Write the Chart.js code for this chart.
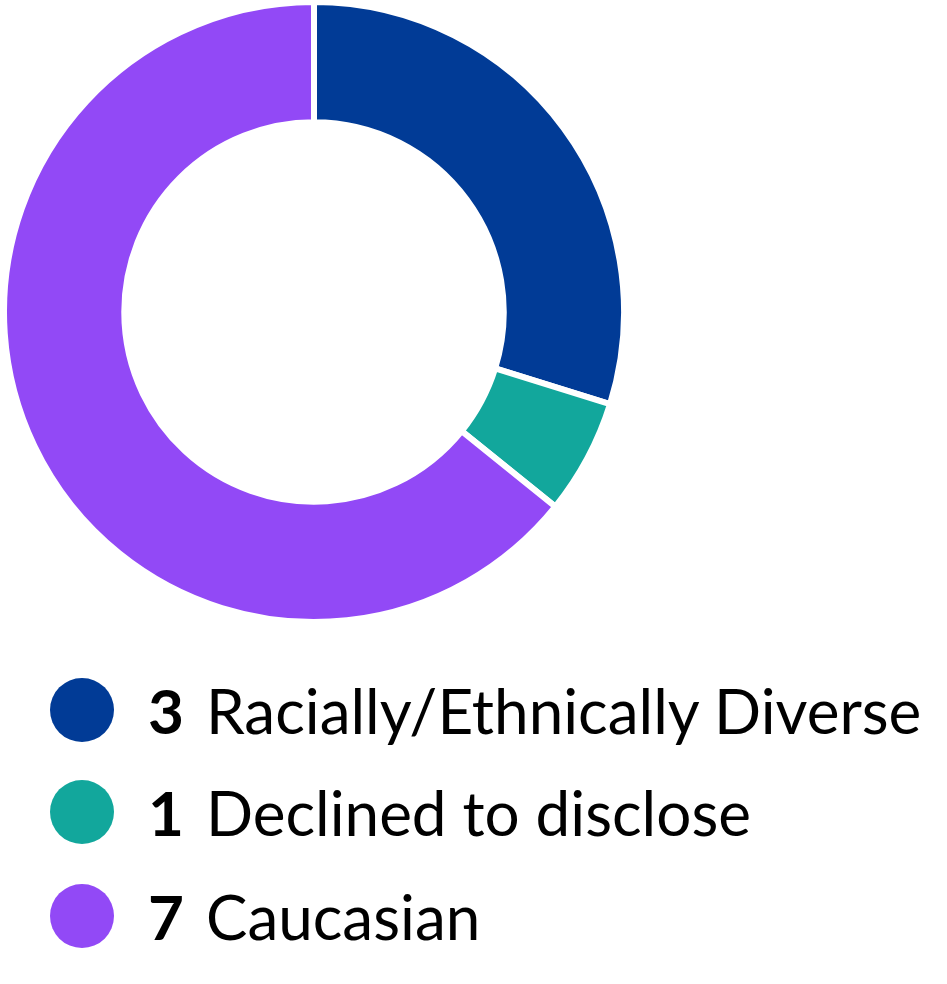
<!DOCTYPE html>
<html>
<head>
<meta charset="utf-8">
<script src="https://cdn.jsdelivr.net/npm/chart.js@4.4.1/dist/chart.umd.min.js"></script>
<style>
  html, body { margin: 0; padding: 0; background: #ffffff; }
  body { width: 947px; height: 984px; position: relative; overflow: hidden; font-family: Lato, "Noto Sans", sans-serif; }
  #chartBox { position: absolute; left: -1px; top: -1px; width: 630px; height: 626px; }
  .row { position: absolute; left: 50px; height: 64px; display: flex; align-items: center; white-space: nowrap; }
  .dot { width: 64px; height: 64px; border-radius: 50%; flex: none; }
  .txt { margin-left: 34px; font-size: 62px; line-height: 64px; color: #000; }
  .num { font-weight: 700; margin-right: 22px; }
</style>
</head>
<body>
<div id="chartBox"><canvas id="c"></canvas></div>
<div id="legend"></div>
<script>
const categories = ["Racially/Ethnically Diverse", "Declined to disclose", "Caucasian"];
const counts = [3, 1, 7];
const sliceShares = [29.8, 6.0, 64.2];
const colors = ["#013B96", "#12A79C", "#9249F6"];

new Chart(document.getElementById("c"), {
  type: "doughnut",
  data: {
    labels: categories,
    datasets: [{
      data: sliceShares,
      backgroundColor: colors,
      borderColor: "#ffffff",
      borderWidth: 6,
      hoverOffset: 0
    }]
  },
  options: {
    responsive: true,
    maintainAspectRatio: false,
    animation: false,
    cutout: "61.2%",
    layout: { padding: 0 },
    plugins: { legend: { display: false }, tooltip: { enabled: false } }
  }
});

const legend = document.getElementById("legend");
const rowTops = [678, 780, 884];
categories.forEach((name, i) => {
  const row = document.createElement("div");
  row.className = "row";
  row.style.top = rowTops[i] + "px";
  const dot = document.createElement("div");
  dot.className = "dot";
  dot.style.background = colors[i];
  const txt = document.createElement("div");
  txt.className = "txt";
  const num = document.createElement("span");
  num.className = "num";
  num.textContent = counts[i];
  txt.appendChild(num);
  txt.appendChild(document.createTextNode(name));
  row.appendChild(dot);
  row.appendChild(txt);
  legend.appendChild(row);
});
</script>
</body>
</html>
